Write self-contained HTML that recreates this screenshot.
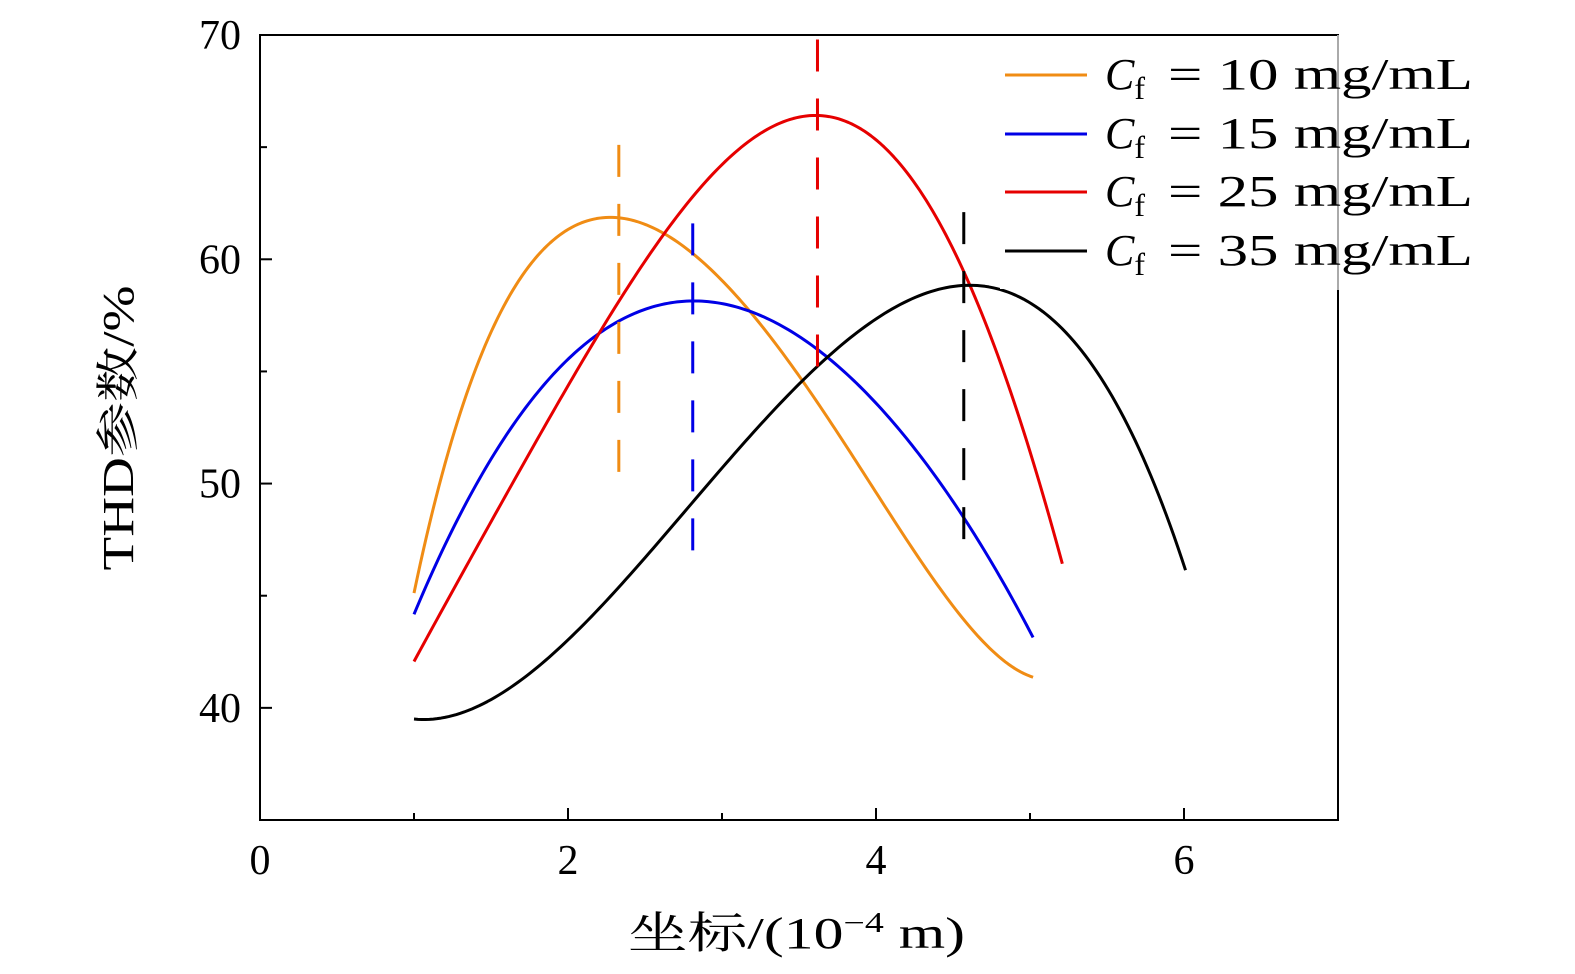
<!DOCTYPE html>
<html><head><meta charset="utf-8"><style>
html,body{margin:0;padding:0;background:#fff;}
svg{display:block;}
text{font-family:"Liberation Serif","Noto Serif CJK SC",serif;fill:#000;}
</style></head><body>
<svg id="chart" width="1575" height="974" viewBox="0 0 1575 974" xmlns="http://www.w3.org/2000/svg">
<g id="plot"></g>
</svg>
<script>
const xTicks=[0,2,4,6];
const xMinor=[1,3,5];
const yTicks=[40,50,60,70];
const yMinor=[45,55,65];
const seriesNames=["10","15","25","35"];
const seriesColors=["#f08c14","#0000e6","#e60000","#000000"];
const orangeX=[1.0,1.23,1.44,1.66,1.87,2.09,2.34,2.62,2.82,3.05,3.27,3.5,3.93,4.36,4.69,5.02];
const orangeY=[45.05,51.7,55.85,58.75,60.58,61.56,61.83,61.3,60.3,58.75,56.7,54.8,50.4,45.9,42.96,41.37];
const blueX=[1.0,1.23,1.55,1.87,2.19,2.52,2.81,3.16,3.61,3.72,4.15,4.58,5.02];
const blueY=[44.15,47.7,51.67,54.58,56.57,57.86,58.17,57.76,55.94,55.48,52.4,48.4,43.13];
const redX=[1.0,1.34,1.77,2.19,2.62,3.05,3.37,3.62,4.04,4.36,4.62,4.9,5.21];
const redY=[42.1,46.23,51.67,56.57,61.1,64.55,66.0,66.41,65.1,62.2,58.93,53.3,46.5];
const blackX=[1.0,1.14,1.55,1.98,2.41,2.81,3.27,3.61,3.72,4.15,4.58,5.01,5.44,5.76,6.01];
const blackY=[39.55,39.42,40.6,42.96,46.05,48.95,52.77,55.3,55.85,58.04,58.84,57.86,54.78,51.13,45.96];
const peakX=[2.33,2.81,3.62,4.57];
const peakTop=[65.1,61.6,69.8,62.1];
const peakBottom=[50.3,46.6,54.8,47.1];

const X0=260,X1=1338,Y0=35,Y1=820;
const sx=v=>X0+(v-0)/(7-0)*(X1-X0);
const sy=v=>Y1-(v-35)/(70-35)*(Y1-Y0);
const NS="http://www.w3.org/2000/svg";
const g=document.getElementById('plot');
function mk(tag,attrs){const e=document.createElementNS(NS,tag);for(const k in attrs)e.setAttribute(k,attrs[k]);g.appendChild(e);return e;}

let fr=mk('rect',{x:X0,y:Y0,width:X1-X0,height:Y1-Y0,fill:'none',stroke:'#000','stroke-width':2});



xTicks.forEach(v=>{
  let t=mk('line',{x1:sx(v),x2:sx(v),y1:Y1,y2:Y1-12,stroke:'#000','stroke-width':2});
  
  
  let l=mk('text',{x:sx(v),y:874,'text-anchor':'middle','font-size':42});
  l.textContent=v;
  
  
});
xMinor.forEach(v=>{
  let t=mk('line',{x1:sx(v),x2:sx(v),y1:Y1,y2:Y1-7,stroke:'#000','stroke-width':2});
  
  
});
yTicks.forEach(v=>{
  let t=mk('line',{x1:X0,x2:X0+12,y1:sy(v),y2:sy(v),stroke:'#000','stroke-width':2});
  
  
  let l=mk('text',{x:241,y:sy(v)+14,'text-anchor':'end','font-size':42});
  l.textContent=v;
  
  
});
yMinor.forEach(v=>{
  let t=mk('line',{x1:X0,x2:X0+7,y1:sy(v),y2:sy(v),stroke:'#000','stroke-width':2});
  
  
});

function polyfit(X,Y,deg){
  const n=deg+1, A=[];
  for(let i=0;i<n;i++){A.push(new Array(n+1).fill(0));}
  for(let k=0;k<X.length;k++){
    for(let i=0;i<n;i++){
      for(let j=0;j<n;j++)A[i][j]+=Math.pow(X[k],i+j);
      A[i][n]+=Y[k]*Math.pow(X[k],i);
    }
  }
  for(let i=0;i<n;i++){
    let m=i;for(let r=i+1;r<n;r++)if(Math.abs(A[r][i])>Math.abs(A[m][i]))m=r;
    [A[i],A[m]]=[A[m],A[i]];
    for(let r=0;r<n;r++){if(r===i)continue;const f=A[r][i]/A[i][i];for(let c=i;c<=n;c++)A[r][c]-=f*A[i][c];}
  }
  return A.map((row,i)=>row[n]/row[i]);
}
function fitPath(X,Y){
  const c=polyfit(X,Y,5);
  const a=X[0],b=X[X.length-1];
  let d='';
  for(let i=0;i<=200;i++){
    const x=a+(b-a)*i/200;
    let y=0;for(let k=0;k<c.length;k++)y+=c[k]*Math.pow(x,k);
    d+=(i?'L':'M')+sx(x).toFixed(2)+','+sy(y).toFixed(2);
  }
  return d;
}
const xs=[orangeX,blueX,redX,blackX], ys=[orangeY,blueY,redY,blackY];
for(let s=0;s<4;s++){
  let c=mk('path',{d:fitPath(xs[s],ys[s]),fill:'none',stroke:seriesColors[s],'stroke-width':3,'stroke-linejoin':'round'});
  
  
}
for(let s=0;s<4;s++){
  let d=mk('line',{x1:sx(peakX[s]),x2:sx(peakX[s]),y1:sy(peakTop[s]),y2:sy(peakBottom[s]),stroke:seriesColors[s],'stroke-width':3,'stroke-dasharray':'32 27'});
  
  
}

let lb=mk('rect',{x:1000,y:37,width:335,height:252,fill:'#fff'});


let rb=mk('line',{x1:X1,x2:X1,y1:Y0,y2:290,stroke:'#aaa','stroke-width':2});


const legY=[75,134,192,251];
for(let s=0;s<4;s++){
  let l=mk('line',{x1:1005,x2:1087,y1:legY[s],y2:legY[s],stroke:seriesColors[s],'stroke-width':3});
  
  
  let t=mk('text',{x:1105,y:legY[s]+14,'font-size':44});
  t.innerHTML=`<tspan font-style="italic">C</tspan><tspan font-size="32" dy="10">f</tspan><tspan dy="-10" x="1168" textLength="305" lengthAdjust="spacingAndGlyphs">= ${seriesNames[s]} mg/mL</tspan>`;
  
  
}

let xt=mk('text',{x:628,y:948,'font-size':44,textLength:337,lengthAdjust:'spacingAndGlyphs'});
xt.innerHTML='坐标/(10<tspan font-size="28" dy="-16">−4</tspan><tspan dy="16"> m)</tspan>';


let yt=mk('text',{x:0,y:0,'text-anchor':'middle','font-size':44,textLength:285,lengthAdjust:'spacingAndGlyphs',transform:'translate(133,428) rotate(-90)'});
yt.textContent='THD参数/%';


</script>
</body></html>
